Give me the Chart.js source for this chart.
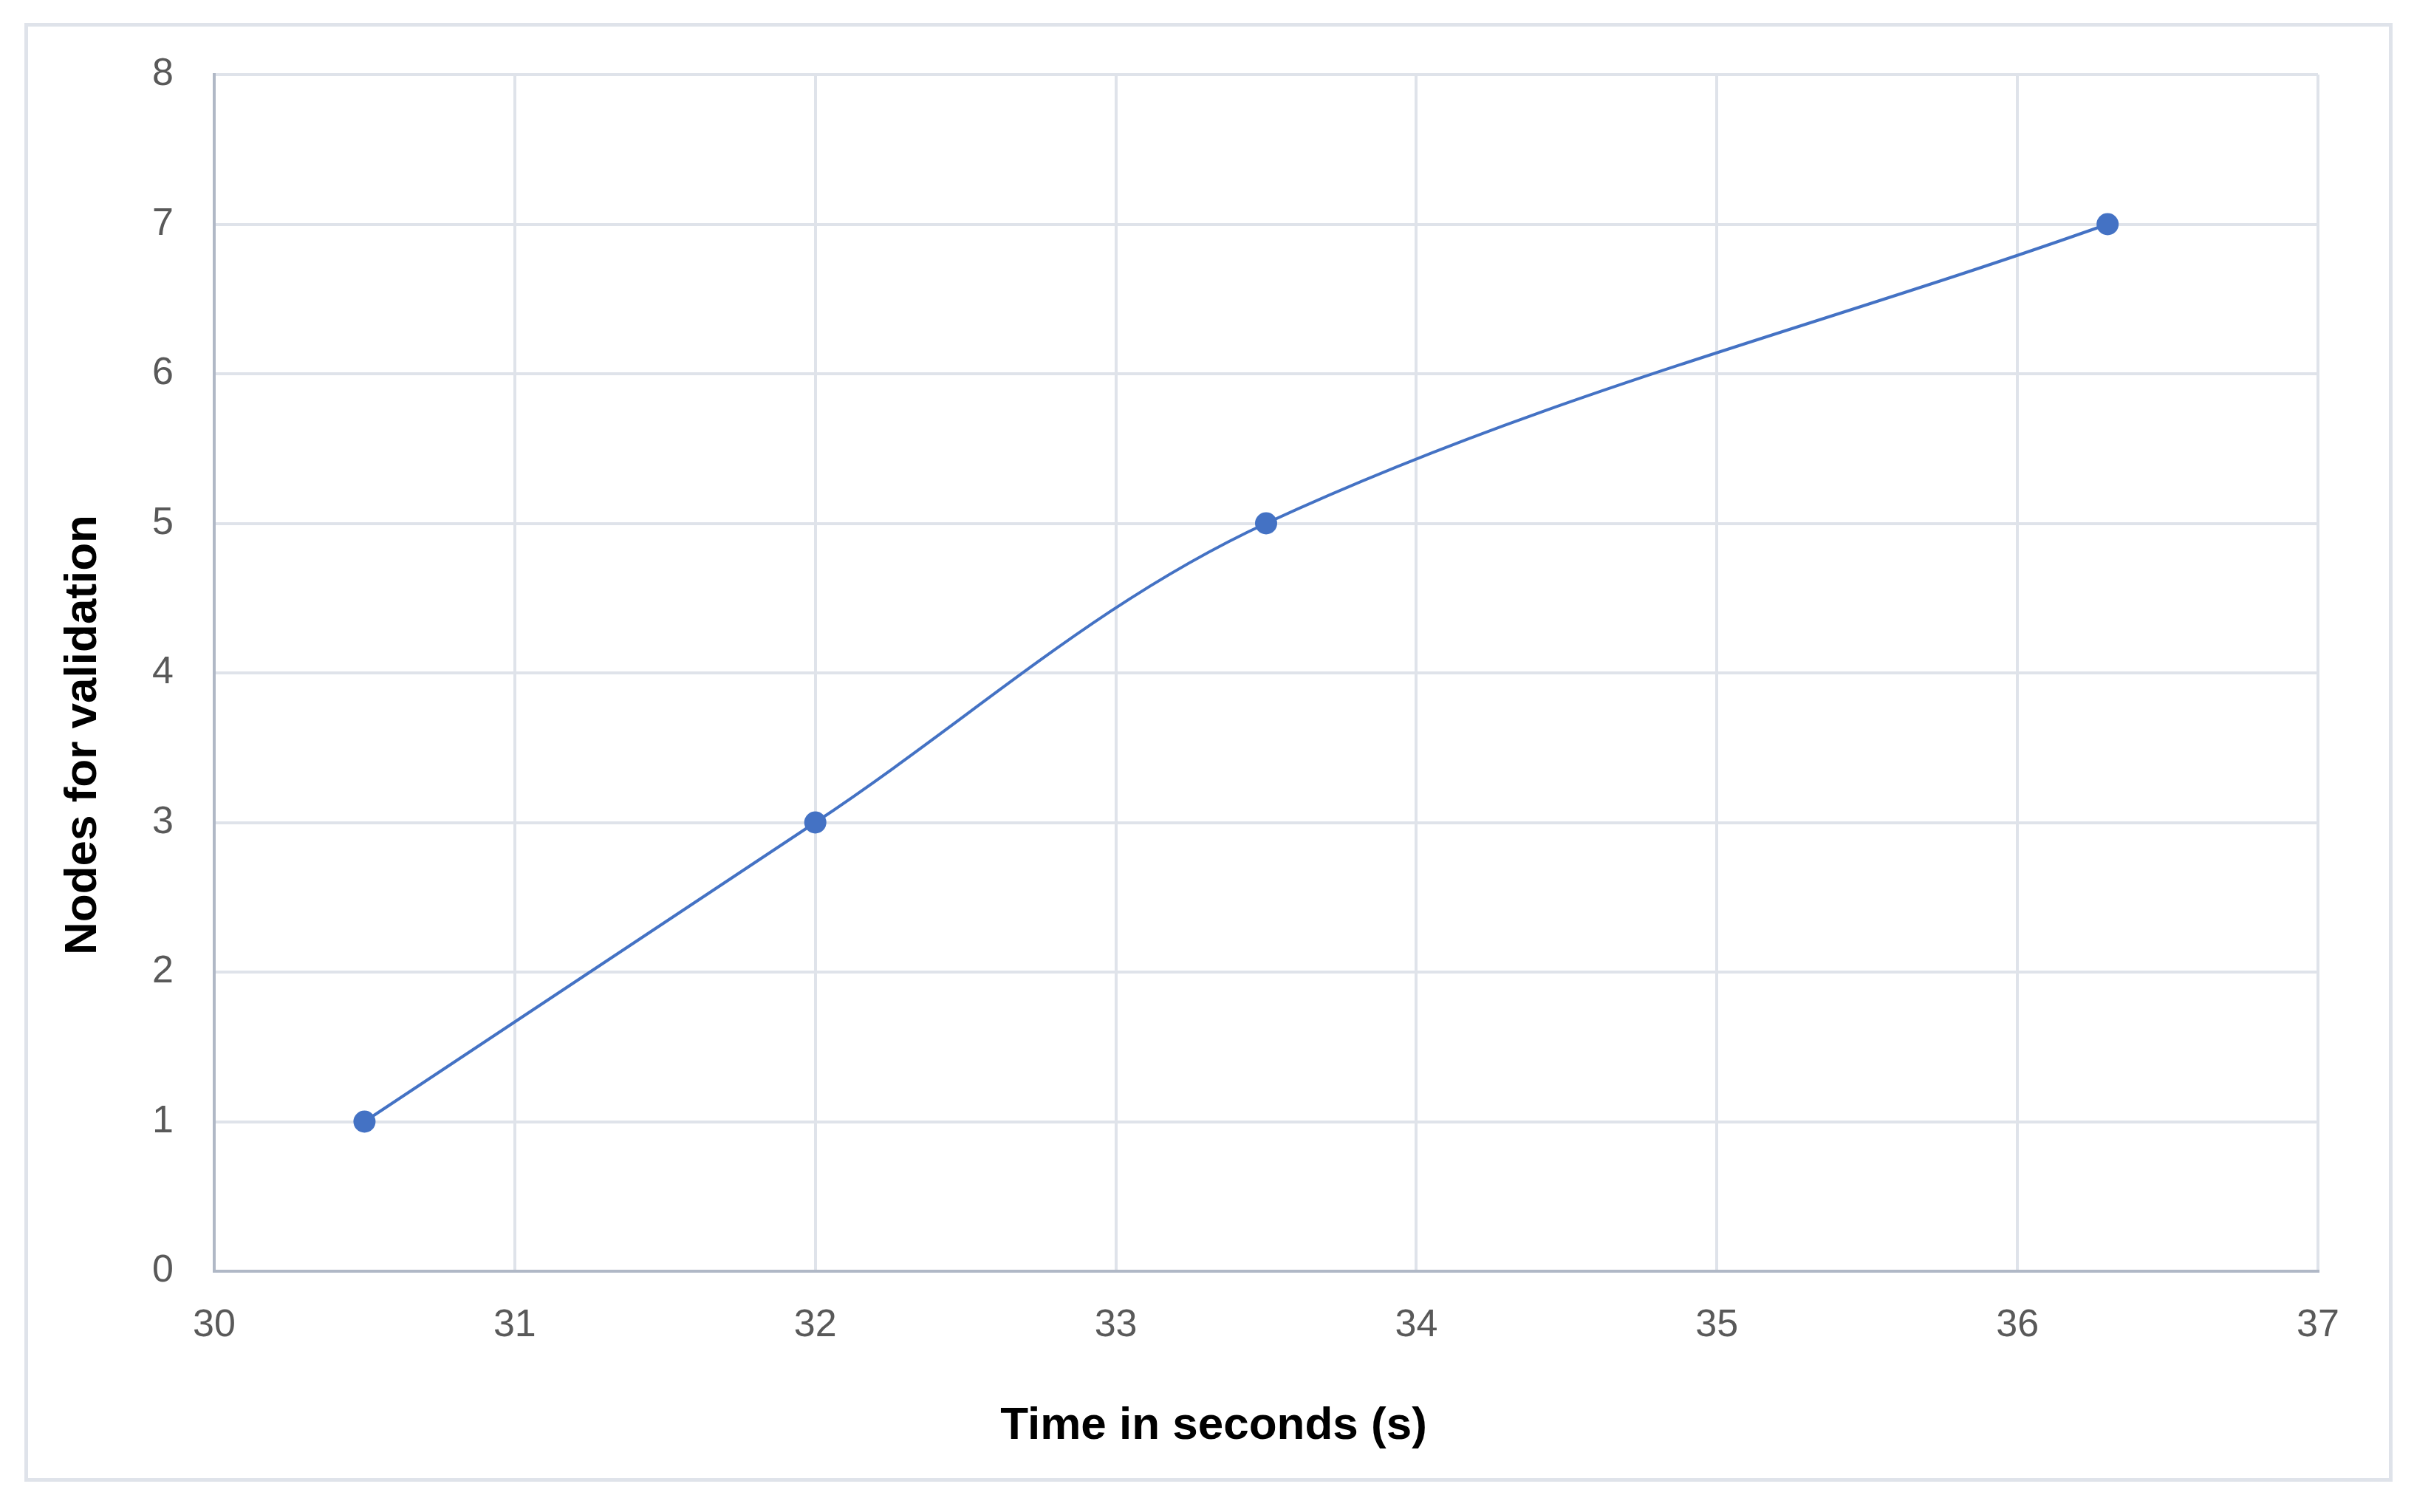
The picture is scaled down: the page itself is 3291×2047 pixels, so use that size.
<!DOCTYPE html>
<html lang="en">
<head>
    <meta charset="UTF-8">
    <title>Nodes for validation vs time</title>
    <script src="https://cdn.jsdelivr.net/npm/chart.js"></script>
    <style>
        body { margin: 0; background: #fff; }
        #frame {
            position: absolute; left: 33px; top: 31px;
            width: 3206px; height: 1975px;
            border: 5px solid #dfe3ea; box-sizing: border-box;
        }
    </style>
</head>
<body>
    <div id="frame"><canvas id="chart"></canvas></div>

    <script>
        // values
        const timeSeconds = [30.5, 32, 33.5, 36.3];
        const nodes = [1, 3, 5, 7];
        const xTitle = 'Time in seconds (s)';
        const yTitle = 'Nodes for validation';

        const blue = '#4472C4';
        const gridColor = '#dfe3ea';
        const axisColor = '#b0b8c6';
        const tickFont = { family: 'Liberation Sans', size: 52 };

        // Excel puts the axis titles a little off the plot centre, so draw them by hand
        const axisTitles = {
            id: 'axisTitles',
            afterDraw(chart) {
                const { ctx, chartArea } = chart;
                const cx = (chartArea.left + chartArea.right) / 2;
                const cy = (chartArea.top + chartArea.bottom) / 2;
                ctx.save();
                ctx.font = 'bold 62px "Liberation Sans"';
                ctx.fillStyle = '#000';
                ctx.textAlign = 'center';
                ctx.textBaseline = 'middle';
                ctx.fillText(xTitle, cx - 71, chartArea.bottom + 210);
                ctx.translate(chartArea.left - 177, cy + 84);
                ctx.rotate(-Math.PI / 2);
                ctx.fillText(yTitle, 0, 0);
                ctx.restore();
            }
        };

        new Chart(document.getElementById('chart'), {
            type: 'line',
            data: {
                datasets: [{
                    data: timeSeconds.map((t, i) => ({ x: t, y: nodes[i] })),
                    borderColor: blue,
                    backgroundColor: blue,
                    borderWidth: 4,
                    tension: 0.35,
                    pointRadius: 15,
                    pointBorderWidth: 0,
                    fill: false
                }]
            },
            options: {
                responsive: true,
                maintainAspectRatio: false,
                animation: false,
                layout: { padding: { top: 65, right: 96, bottom: 0, left: 0 } },
                plugins: { legend: { display: false }, tooltip: { enabled: false } },
                scales: {
                    x: {
                        type: 'linear',
                        min: 30, max: 37,
                        ticks: { stepSize: 1, color: '#595959', font: tickFont, padding: 42 },
                        grid: { color: gridColor, lineWidth: 4, drawTicks: false },
                        border: { color: axisColor, width: 4 },
                        afterFit: (scale) => { scale.height = 280; }
                    },
                    y: {
                        min: 0, max: 8,
                        ticks: { stepSize: 1, color: '#595959', font: tickFont, padding: 55 },
                        grid: { color: gridColor, lineWidth: 4, drawTicks: false },
                        border: { color: axisColor, width: 4 },
                        afterFit: (scale) => {
                            scale.width = 252;
                            // tick padding would otherwise push the plot top down
                            scale.paddingTop = 0;
                            scale.paddingBottom = 0;
                        }
                    }
                }
            },
            plugins: [axisTitles]
        });
    </script>
</body>
</html>
